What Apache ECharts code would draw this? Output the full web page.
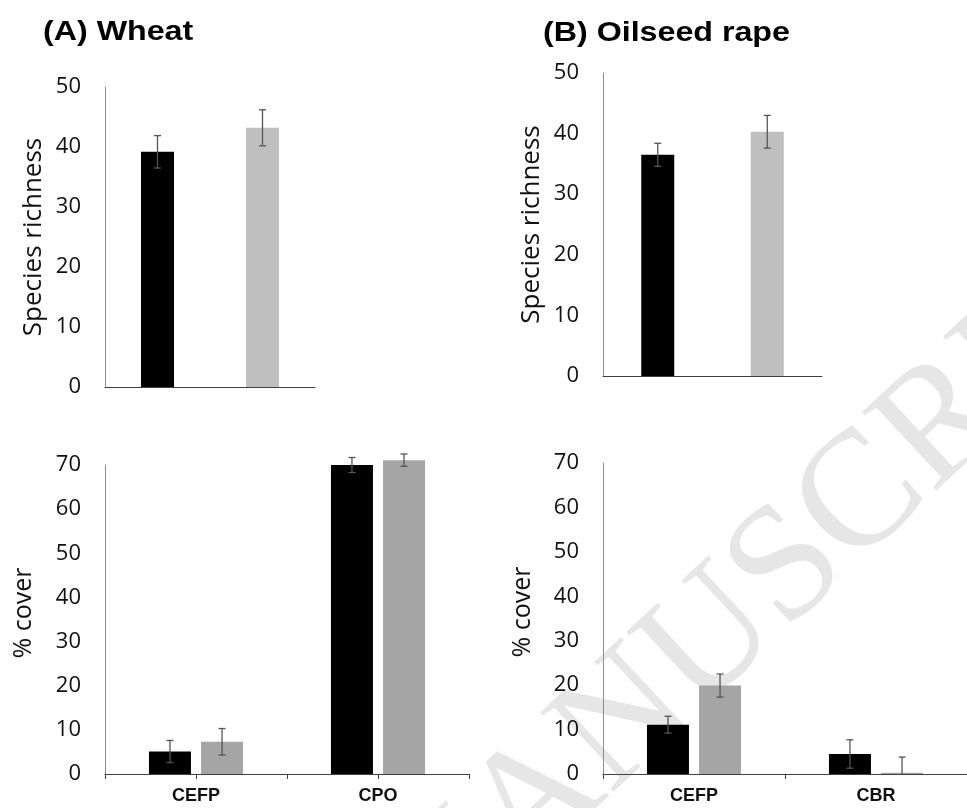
<!DOCTYPE html>
<html>
<head>
<meta charset="utf-8">
<script src="https://cdn.jsdelivr.net/npm/echarts@6/dist/echarts.min.js"></script>
<style>
html,body{margin:0;padding:0;background:#fff;}
#main{width:967px;height:808px;}
</style>
</head>
<body>
<div id="main"></div>
<script>
// ---------- data ----------
const richnessGroups = ['Group 1', 'Group 2'];
const wheatRichness = [39.2, 43.2];
const wheatRichnessErr = [2.7, 3.0];
const rapeRichness = [36.5, 40.3];
const rapeRichnessErr = [1.9, 2.7];

const wheatCoverCats = ['CEFP', 'CPO'];
const wheatCoverBlack = [5.1, 70.0];
const wheatCoverBlackErr = [2.5, 1.7];
const wheatCoverGrey = [7.3, 71.1];
const wheatCoverGreyErr = [3.0, 1.4];

const rapeCoverCats = ['CEFP', 'CBR'];
const rapeCoverBlack = [11.1, 4.5];
const rapeCoverBlackErr = [1.9, 3.2];
const rapeCoverGrey = [19.9, 0.3];
const rapeCoverGreyErr = [2.6, 3.5];

const richnessTicks = {min: 0, max: 50, interval: 10};
const coverTicks = {min: 0, max: 70, interval: 10};

const panelTitles = ['(A) Wheat', '(B) Oilseed rape'];
const richnessName = 'Species richness';
const coverName = '% cover';
const watermark = 'ACCEPTED MANUSCRIPT';

// ---------- styles ----------
const BLACK = '#000000';
const GREY_TOP = '#bfbfbf';
const GREY_BOT = '#a5a5a5';
const ERR_COLOR = '#555555';
const TICK_FONT = 'Open Sans';
const NAME_FONT = 'Open Sans';
const TOP_BAR_W = 33;
const BOT_BAR_W = 42;
const BOT_GAP = 0.24;
const BOT_OFFSET = (BOT_BAR_W + BOT_BAR_W * BOT_GAP) / 2;

const chart = echarts.init(document.getElementById('main'), null, {renderer: 'canvas'});

function yAxisCfg(gridIndex, ticks, name, gap, fs, pad) {
  return {
    type: 'value', gridIndex: gridIndex,
    min: ticks.min, max: ticks.max, interval: ticks.interval,
    axisLine: {show: true, lineStyle: {color: '#8c8c8c', width: 1}},
    axisTick: {show: false},
    splitLine: {show: false},
    axisLabel: {fontFamily: TICK_FONT, fontSize: 22, color: '#111', margin: 24},
    name: name, nameLocation: 'middle', nameGap: gap,
    nameTextStyle: {fontFamily: NAME_FONT, fontSize: fs, color: '#111', padding: pad}
  };
}

function errSeries(xi, yi, values, errs, offset) {
  return {
    type: 'custom', xAxisIndex: xi, yAxisIndex: yi, z: 5, silent: true, clip: false,
    data: values.map((v, i) => [i, v, errs[i]]),
    renderItem: function (params, api) {
      const c = api.value(0), v = api.value(1), e = api.value(2);
      const p = api.coord([c, v]);
      const x = p[0] + offset;
      const yTop = api.coord([c, v + e])[1];
      const lowVal = Math.max(0, v - e);
      const yBot = api.coord([c, lowVal])[1];
      const cap = 3.5;
      const st = {stroke: ERR_COLOR, lineWidth: 1.3};
      const children = [
        {type: 'line', shape: {x1: x, y1: yTop, x2: x, y2: yBot}, style: st},
        {type: 'line', shape: {x1: x - cap, y1: yTop, x2: x + cap, y2: yTop}, style: st}
      ];
      if (v - e >= 0) {
        children.push({type: 'line', shape: {x1: x - cap, y1: yBot, x2: x + cap, y2: yBot}, style: st});
      }
      return {type: 'group', children: children};
    }
  };
}

const catLabel = {fontFamily: 'Liberation Sans, Arial', fontWeight: 'bold', fontSize: 18, color: '#111', margin: 13};

const option = {
  animation: false,
  backgroundColor: '#ffffff',
  grid: [
    {left: 105, top: 87, width: 210, height: 300},
    {left: 603, top: 73, width: 219, height: 303},
    {left: 105, top: 465, width: 364, height: 309},
    {left: 603, top: 463, width: 372, height: 311}
  ],
  xAxis: [
    {type: 'category', gridIndex: 0, data: richnessGroups,
      axisLine: {lineStyle: {color: '#404040'}}, axisTick: {show: false}, axisLabel: {show: false}},
    {type: 'category', gridIndex: 1, data: richnessGroups,
      axisLine: {lineStyle: {color: '#404040'}}, axisTick: {show: false}, axisLabel: {show: false}},
    {type: 'category', gridIndex: 2, data: wheatCoverCats, position: 'bottom',
      axisLine: {lineStyle: {color: '#404040'}},
      axisTick: {show: true, length: 5, alignWithLabel: false, lineStyle: {color: '#404040'}},
      axisLabel: catLabel},
    {type: 'category', gridIndex: 3, data: rapeCoverCats,
      axisLine: {lineStyle: {color: '#404040'}},
      axisTick: {show: true, length: 5, alignWithLabel: false, lineStyle: {color: '#404040'}},
      axisLabel: catLabel},
    {type: 'category', gridIndex: 2, position: 'bottom', offset: 0,
      data: ['', '', '', ''],
      axisLine: {show: false},
      axisTick: {show: true, length: 5, interval: 0, lineStyle: {color: '#404040'}},
      axisLabel: {show: false}}
  ],
  yAxis: [
    yAxisCfg(0, richnessTicks, richnessName, 58, 26, 0),
    yAxisCfg(1, richnessTicks, richnessName, 58, 26, 0),
    yAxisCfg(2, coverTicks, coverName, 69, 25, [0, 0, 0, 13]),
    yAxisCfg(3, coverTicks, coverName, 68, 25, [0, 0, 0, 13])
  ],
  graphic: [
    {type: 'text', z: -10, x: 1164, y: 219, rotation: 43 * Math.PI / 180,
      style: {text: watermark, font: '165px "Liberation Serif", serif', fill: '#e6e6e6',
        textAlign: 'right', verticalAlign: 'middle'}},
    {type: 'text', x: 43, y: 32.5, scaleX: 1.15,
      style: {text: panelTitles[0], font: 'bold 28px "Liberation Sans", Arial', fill: '#000',
        textAlign: 'left', verticalAlign: 'middle'}},
    {type: 'text', x: 543, y: 33.5, scaleX: 1.15,
      style: {text: panelTitles[1], font: 'bold 28px "Liberation Sans", Arial', fill: '#000',
        textAlign: 'left', verticalAlign: 'middle'}}
  ],
  series: [
    {type: 'bar', xAxisIndex: 0, yAxisIndex: 0, data: wheatRichness, barWidth: TOP_BAR_W,
      itemStyle: {color: (p) => [BLACK, GREY_TOP][p.dataIndex]}},
    {type: 'bar', xAxisIndex: 1, yAxisIndex: 1, data: rapeRichness, barWidth: TOP_BAR_W,
      itemStyle: {color: (p) => [BLACK, GREY_TOP][p.dataIndex]}},
    {type: 'bar', xAxisIndex: 2, yAxisIndex: 2, data: wheatCoverBlack, barWidth: BOT_BAR_W, clip: false,
      barGap: (BOT_GAP * 100) + '%', itemStyle: {color: BLACK}},
    {type: 'bar', xAxisIndex: 2, yAxisIndex: 2, data: wheatCoverGrey, barWidth: BOT_BAR_W, clip: false,
      barGap: (BOT_GAP * 100) + '%', itemStyle: {color: GREY_BOT}},
    {type: 'bar', xAxisIndex: 3, yAxisIndex: 3, data: rapeCoverBlack, barWidth: BOT_BAR_W, clip: false,
      barGap: (BOT_GAP * 100) + '%', itemStyle: {color: BLACK}},
    {type: 'bar', xAxisIndex: 3, yAxisIndex: 3, data: rapeCoverGrey, barWidth: BOT_BAR_W, clip: false,
      barGap: (BOT_GAP * 100) + '%', itemStyle: {color: GREY_BOT}},
    errSeries(0, 0, wheatRichness, wheatRichnessErr, 0),
    errSeries(1, 1, rapeRichness, rapeRichnessErr, 0),
    errSeries(2, 2, wheatCoverBlack, wheatCoverBlackErr, -BOT_OFFSET),
    errSeries(2, 2, wheatCoverGrey, wheatCoverGreyErr, BOT_OFFSET),
    errSeries(3, 3, rapeCoverBlack, rapeCoverBlackErr, -BOT_OFFSET),
    errSeries(3, 3, rapeCoverGrey, rapeCoverGreyErr, BOT_OFFSET)
  ]
};
chart.setOption(option);
</script>
</body>
</html>
